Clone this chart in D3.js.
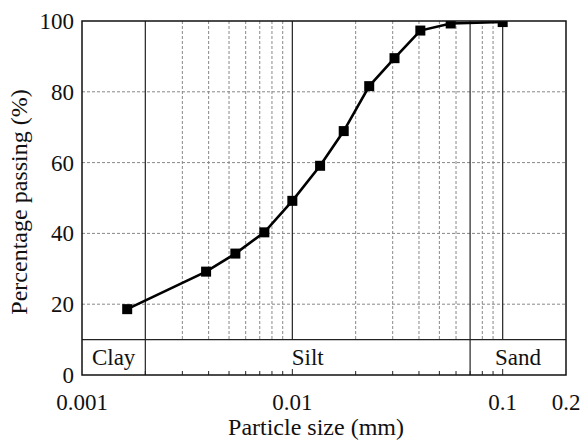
<!DOCTYPE html>
<html>
<head>
<meta charset="utf-8">
<script src="https://cdn.jsdelivr.net/npm/d3@7"></script>
</head>
<body style="margin:0">
<script>
// sieve / hydrometer readings
const particleSize = [0.00164, 0.00389, 0.00536, 0.00736, 0.01, 0.01355, 0.01755, 0.0232, 0.0306, 0.0406, 0.0566, 0.1]
const passing = [18.6, 29.2, 34.3, 40.3, 49.2, 59.1, 68.9, 81.6, 89.5, 97.3, 99.3, 99.7]

const xTicks = [0.001, 0.01, 0.1, 0.2]
const xTickLabels = ['0.001', '0.01', '0.1', '0.2']
const yTicks = [0, 20, 40, 60, 80, 100]
const yGrid = [20, 40, 60, 80]

const soilNames = ['Clay', 'Silt', 'Sand']
const soilBounds = [0.001, 0.002, 0.07, 0.2]
const bandTop = 10

const width = 583
const height = 441
const margin = { top: 21, right: 17, bottom: 66, left: 82 }
const w = width - margin.left - margin.right
const h = height - margin.top - margin.bottom

const x = d3.scaleLog().domain([0.001, 0.2]).range([0, w])
const y = d3.scaleLinear().domain([0, 100]).range([h, 0])

const svg = d3.select('body').append('svg')
  .attr('width', width)
  .attr('height', height)

const g = svg.append('g')
  .attr('transform', `translate(${margin.left},${margin.top})`)

g.append('clipPath').attr('id', 'clip')
  .append('rect').attr('width', w).attr('height', h)

// minor decade positions
const minor = []
for (const dec of [0.001, 0.01, 0.1]) {
  for (let k = 2; k <= 9; k++) {
    const v = +(dec * k).toPrecision(3)
    if (v < 0.2) minor.push(v)
  }
}
const dashedX = minor.filter(v => !soilBounds.includes(v))

// dashed grid
g.selectAll('.hgrid').data(yGrid).enter().append('line')
  .attr('x1', 0).attr('x2', w)
  .attr('y1', d => y(d)).attr('y2', d => y(d))
  .attr('stroke', '#888').attr('stroke-width', 1).attr('stroke-dasharray', '3,2')

g.selectAll('.vgrid').data(dashedX).enter().append('line')
  .attr('x1', d => x(d)).attr('x2', d => x(d))
  .attr('y1', 0).attr('y2', y(bandTop))
  .attr('stroke', '#888').attr('stroke-width', 1).attr('stroke-dasharray', '3,2')

// solid decade lines in upper part
g.selectAll('.dec').data([0.01, 0.1]).enter().append('line')
  .attr('x1', d => x(d)).attr('x2', d => x(d))
  .attr('y1', 0).attr('y2', y(bandTop))
  .attr('stroke', '#222').attr('stroke-width', 1.2)

// soil boundaries, full height
g.selectAll('.bound').data(soilBounds.slice(1, 3)).enter().append('line')
  .attr('x1', d => x(d)).attr('x2', d => x(d))
  .attr('y1', 0).attr('y2', h)
  .attr('stroke', '#222').attr('stroke-width', 1.2)

g.append('line')
  .attr('x1', 0).attr('x2', w)
  .attr('y1', y(bandTop)).attr('y2', y(bandTop))
  .attr('stroke', '#222').attr('stroke-width', 1.2)

const txt = size => `font-family: Tinos; font-size: ${size}px; fill: #111`

// soil names
g.selectAll('.soil').data(soilNames).enter().append('text')
  .attr('style', txt(23))
  .attr('x', (d, i) => (x(soilBounds[i]) + x(soilBounds[i + 1])) / 2)
  .attr('y', y(bandTop / 2))
  .attr('dy', '0.35em')
  .attr('text-anchor', 'middle')
  .text(d => d)

// bottom ticks, pointing inward
g.selectAll('.mtick').data(minor).enter().append('line')
  .attr('x1', d => x(d)).attr('x2', d => x(d))
  .attr('y1', h).attr('y2', h - 4)
  .attr('stroke', '#222')
g.selectAll('.Mtick').data([0.01, 0.1]).enter().append('line')
  .attr('x1', d => x(d)).attr('x2', d => x(d))
  .attr('y1', h).attr('y2', h - 6)
  .attr('stroke', '#222')

// curve
const line = d3.line()
  .x((d, i) => x(particleSize[i]))
  .y(d => y(d))

const plot = g.append('g').attr('clip-path', 'url(#clip)')
plot.append('path')
  .datum(passing)
  .attr('d', line)
  .attr('fill', 'none')
  .attr('stroke', '#000')
  .attr('stroke-width', 2.6)

const ms = 10
plot.selectAll('.pt').data(passing).enter().append('rect')
  .attr('x', (d, i) => x(particleSize[i]) - ms / 2)
  .attr('y', d => y(d) - ms / 2)
  .attr('width', ms).attr('height', ms)
  .attr('fill', '#000')

// frame
g.append('rect')
  .attr('width', w).attr('height', h)
  .attr('fill', 'none').attr('stroke', '#111').attr('stroke-width', 1.5)

// tick labels
g.selectAll('.xl').data(xTicks).enter().append('text')
  .attr('style', txt(23))
  .attr('x', d => x(d))
  .attr('y', h + 35)
  .attr('text-anchor', 'middle')
  .text((d, i) => xTickLabels[i])

g.selectAll('.yl').data(yTicks).enter().append('text')
  .attr('style', txt(23))
  .attr('x', -8)
  .attr('y', d => y(d))
  .attr('dy', '0.35em')
  .attr('text-anchor', 'end')
  .text(d => d)

// axis titles
svg.append('text')
  .attr('style', txt(24))
  .attr('x', margin.left + w / 2 - 8)
  .attr('y', 435)
  .attr('text-anchor', 'middle')
  .text('Particle size (mm)')

svg.append('text')
  .attr('style', txt(24))
  .attr('transform', `translate(27,${margin.top + h / 2 + 4}) rotate(-90)`)
  .attr('text-anchor', 'middle')
  .text('Percentage passing (%)')
</script>
</body>
</html>
